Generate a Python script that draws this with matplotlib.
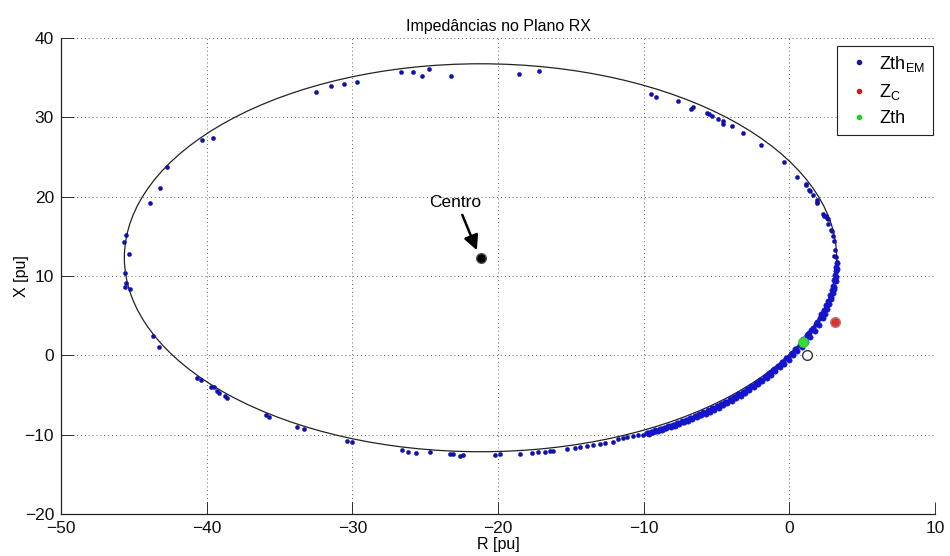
import matplotlib
matplotlib.use("Agg")
import matplotlib.pyplot as plt
from matplotlib.patches import Ellipse

plt.rcParams['font.family'] = ['Liberation Sans', 'DejaVu Sans']
plt.rcParams['mathtext.fontset'] = 'custom'
plt.rcParams['mathtext.rm'] = 'Liberation Sans'
plt.rcParams['mathtext.it'] = 'Liberation Sans'

# ---------------- data ----------------
# Sparse Zth_EM points (R, X)
r_sparse = [-26.68, -25.86, -25.24, -24.74, -23.25, -32.47, -31.46, -30.60, -29.70,
            -40.34, -39.59, -42.74, -43.22, -43.89, -45.54, -45.68, -45.31,
            -18.54, -17.21, -9.50, -9.18, -7.67, -6.75, -6.64, -5.68, -5.50, -5.29,
            -4.88, -4.54, -4.54, -3.96, -3.16, -1.95, -0.37, 0.50, 1.14, 1.16, 1.37,
            1.41, 1.64, 1.87, 1.90, 1.92, 2.33, 2.40, 2.52, 2.56, 2.63, 2.67, 2.84,
            2.90, 2.97, 3.06, 3.13, 3.08, 3.20, 3.25,
            -45.61, -45.54, -45.61, -45.26, -43.66, -43.25, -40.69, -40.41, -39.72,
            -39.50, -39.27, -39.13, -38.74, -38.58, -35.93, -35.70, -33.80, -33.32,
            -30.39, -30.04, -26.57, -26.16, -25.65, -24.67, -23.30, -23.07, -22.61,
            -22.38, -20.21, -19.86, -18.49, -17.69, -17.23, -16.77, -16.43, -16.20,
            -15.29, -14.71, -14.37, -13.91, -13.46, -13.00, -12.66, -12.08, -11.74,
            -11.40, -11.17, -10.71, -10.37, -10.03]
x_sparse = [35.75, 35.70, 35.25, 36.05, 35.25, 33.15, 33.90, 34.25, 34.50,
            27.20, 27.35, 23.74, 21.05, 19.24, 15.13, 14.33, 12.77,
            35.46, 35.84, 32.90, 32.52, 32.00, 31.00, 31.26, 30.58, 30.38, 30.13,
            29.79, 29.58, 29.16, 28.95, 28.07, 26.50, 24.37, 22.48, 21.55, 21.47, 20.84,
            20.75, 20.21, 19.58, 19.30, 19.16, 17.85, 17.60, 17.52, 17.25, 17.18, 16.59, 15.80,
            15.71, 15.10, 14.40, 13.28, 12.52, 12.40, 11.73,
            10.41, 9.07, 8.65, 8.36, 2.47, 1.01, -2.86, -3.11, -3.95,
            -3.95, -4.46, -4.71, -5.13, -5.42, -7.52, -7.81, -8.99, -9.33,
            -10.80, -10.93, -11.94, -12.15, -12.28, -12.23, -12.44, -12.48, -12.66,
            -12.53, -12.57, -12.44, -12.44, -12.31, -12.23, -12.15, -12.06, -12.02,
            -11.85, -11.72, -11.52, -11.43, -11.27, -11.18, -11.09, -10.89, -10.59,
            -10.46, -10.34, -10.17, -10.08, -10.04]

# Dense band of Zth_EM points (R, X)
r_band = [-9.80, -9.50, -9.20, -8.90, -8.60, -8.30, -8.00, -7.70, -7.40, -7.10,
          -6.80, -6.50, -6.20, -5.90, -5.60, -5.30, -5.00, -4.70, -4.40, -4.10,
          -3.80, -3.50, -3.20, -2.90, -2.60, -2.30, -2.00, -1.70, -1.40, -1.10,
          -0.80, -0.50, -0.20, 0.10, 0.40, 0.70, 1.00, 1.30, 1.60, 1.90,
          2.20, 2.35, 2.50, 2.65, 2.80, 2.90, 3.00, 3.08, 3.15, 3.19, 3.22, 3.25,
          -9.65, -9.35, -9.05, -8.75, -8.45, -8.15, -7.85, -7.55, -7.25, -6.95,
          -6.65, -6.35, -6.05, -5.75, -5.45, -5.15, -4.85, -4.55, -4.25, -3.95,
          -3.65, -3.35, -3.05, -2.75, -2.45, -2.15, -1.85, -1.55, -1.25, -0.95,
          -0.65, -0.35, -0.05, 0.25, 0.55, 0.85, 1.15, 1.45, 1.75, 2.05,
          2.30, 2.45, 2.60, 2.75, 2.88, 3.00, 3.10, 3.17,
          0.95, 1.20, 1.50, 1.80, 2.10, 2.40, 2.62, 2.85, 3.05, 3.18, 3.24,
          -9.725, -9.425, -9.125, -8.825, -8.525, -8.225, -7.925, -7.625, -7.325,
          -7.025, -6.725, -6.425, -6.125, -5.825, -5.525, -5.225, -4.925, -4.625,
          -4.325, -4.025, -3.725, -3.425, -3.125, -2.825, -2.525, -2.225, -1.925,
          -1.625, -1.325, -1.025, -0.725, -0.425, -0.125, 0.175, 0.475, 0.775,
          1.075, 1.375]
x_band = [-9.80, -9.62, -9.45, -9.28, -9.10, -8.92, -8.73, -8.54, -8.33, -8.12,
          -7.90, -7.68, -7.45, -7.20, -6.95, -6.69, -6.42, -6.14, -5.85, -5.55,
          -5.24, -4.92, -4.58, -4.22, -3.86, -3.48, -3.08, -2.67, -2.25, -1.80,
          -1.33, -0.84, -0.33, 0.20, 0.75, 1.35, 1.97, 2.66, 3.42, 4.25,
          5.18, 5.70, 6.30, 6.90, 7.60, 8.20, 8.80, 9.45, 10.10, 10.60, 11.10, 11.70,
          -9.90, -9.72, -9.55, -9.38, -9.21, -9.03, -8.85, -8.66, -8.45, -8.24,
          -8.03, -7.81, -7.58, -7.35, -7.10, -6.84, -6.58, -6.30, -6.00, -5.70,
          -5.40, -5.08, -4.75, -4.40, -4.04, -3.66, -3.25, -2.84, -2.42, -1.98,
          -1.52, -1.04, -0.54, 0.00, 0.52, 1.10, 1.70, 2.35, 3.05, 3.82,
          4.65, 5.20, 5.80, 6.45, 7.15, 7.85, 8.60, 9.40,
          2.05, 2.55, 3.20, 3.90, 4.75, 5.55, 6.35, 7.35, 8.40, 9.90, 10.90,
          -9.835, -9.66, -9.49, -9.315, -9.135, -8.95, -8.76, -8.57, -8.36,
          -8.145, -7.925, -7.70, -7.47, -7.22, -6.965, -6.70, -6.43, -6.15,
          -5.855, -5.55, -5.24, -4.915, -4.57, -4.21, -3.845, -3.46, -3.06,
          -2.645, -2.22, -1.76, -1.29, -0.79, -0.28, 0.26, 0.82, 1.42,
          2.06, 2.77]

# Fitted circle (centre and radius)
centre_r, centre_x = -21.2, 12.3
radius = 24.45

# Annotation arrow (tail, tip) and label position
arrow_tail = (-22.45, 17.7)
arrow_tip = (-21.45, 13.25)
label_pos = (-22.95, 19.25)

# Single points
zc_r, zc_x = 3.13, 4.24
zth_r, zth_x = 0.96, 1.72
open_r, open_x = 1.23, 0.04

xticks = [-50, -40, -30, -20, -10, 0, 10]
yticks = [-20, -10, 0, 10, 20, 30, 40]

# ---------------- plot ----------------
fig = plt.figure(figsize=(9.5, 5.56), dpi=100)
ax = fig.add_axes([61/950, 42/556, 874/950, 476/556])

blue = '#1010b0'
band_blue = '#1414cc'
ax.add_patch(Ellipse((centre_r, centre_x), 2*radius, 2*radius, fill=False,
                     edgecolor='#222222', linewidth=0.9, zorder=2))
ax.plot(r_sparse, x_sparse, linestyle='none', marker='o',
        markersize=3.0, markerfacecolor=blue, markeredgecolor=blue,
        markeredgewidth=0.3, zorder=3)
ax.plot(r_band, x_band, linestyle='none', marker='o',
        markersize=3.9, markerfacecolor=band_blue, markeredgecolor=band_blue,
        markeredgewidth=0.3, zorder=3)

ax.plot([zc_r], [zc_x], linestyle='none', marker='o', markersize=7,
        markerfacecolor='#e03030', markeredgecolor='#b08080', markeredgewidth=1.0,
        zorder=4)
ax.plot([zth_r], [zth_x], linestyle='none', marker='o', markersize=7,
        markerfacecolor='#30e030', markeredgecolor='#40c040', markeredgewidth=0.8,
        zorder=4)
ax.plot([open_r], [open_x], linestyle='none', marker='o', markersize=7,
        markerfacecolor='white', markeredgecolor='#303050', markeredgewidth=1.0,
        zorder=4)
ax.plot([centre_r], [centre_x], linestyle='none', marker='o', markersize=7,
        markerfacecolor='black', markeredgecolor='#555555', markeredgewidth=1.0,
        zorder=4)

# legend handles (small dots)
h1, = ax.plot([], [], linestyle='none', marker='o', markersize=3,
              color='#1a1a90', label=r'Zth$_{\mathrm{EM}}$')
h2, = ax.plot([], [], linestyle='none', marker='o', markersize=3,
              color='#c02020', label=r'Z$_{\mathrm{C}}$')
h3, = ax.plot([], [], linestyle='none', marker='o', markersize=3,
              color='#20d020', label='Zth')
leg = ax.legend(handles=[h1, h2, h3], loc='upper right',
                bbox_to_anchor=(0.998, 0.984), fontsize=13, frameon=True,
                fancybox=False, edgecolor='#222222', framealpha=1,
                labelspacing=0.45, handletextpad=0.3, handlelength=1.6,
                borderpad=0.45, borderaxespad=0)
leg.get_frame().set_linewidth(0.8)

ax.annotate('', xy=arrow_tip, xytext=arrow_tail,
            arrowprops=dict(arrowstyle='-|>', color='black', lw=1.8,
                            mutation_scale=22, shrinkA=0, shrinkB=0),
            zorder=5)
ax.text(label_pos[0], label_pos[1], 'Centro', ha='center', va='center',
        fontsize=12.5, zorder=5)

ax.set_xlim(-50, 10)
ax.set_ylim(-20, 40)
ax.set_xticks(xticks)
ax.set_yticks(yticks)
ax.tick_params(direction='in', length=9, width=0.6, labelsize=12.5,
               colors='#111111', pad=5)
ax.grid(True, linestyle=(0, (1, 3)), color='#666666', linewidth=0.7)
ax.set_axisbelow(True)
for s in ['top', 'right']:
    ax.spines[s].set_visible(False)
for s in ['left', 'bottom']:
    ax.spines[s].set_linewidth(0.9)
    ax.spines[s].set_color('#222222')

ax.set_title('Impedâncias no Plano RX', fontsize=11.5, pad=5)
ax.set_xlabel('R [pu]', fontsize=11.5, labelpad=1)
ax.set_ylabel('X [pu]', fontsize=11.5, labelpad=-3)

fig.savefig('out.png', dpi=100, facecolor='white')
